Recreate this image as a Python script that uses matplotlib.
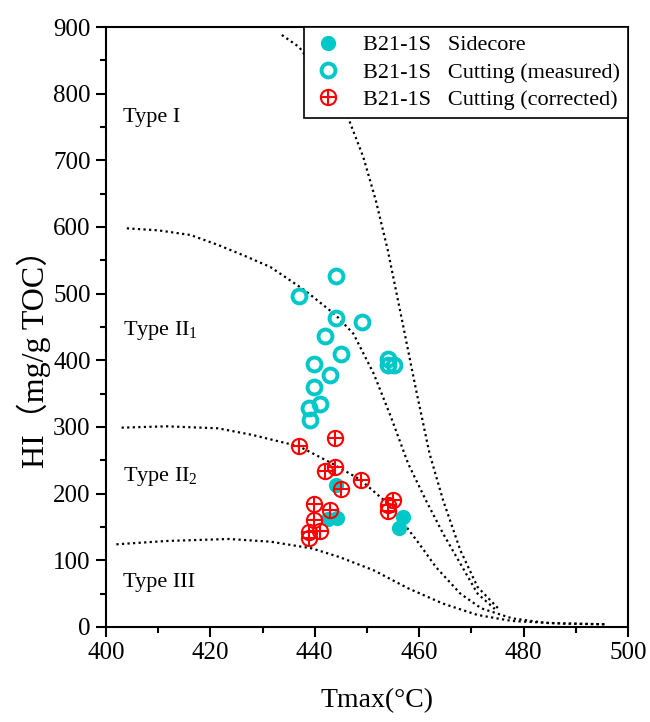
import matplotlib
matplotlib.use("Agg")
import matplotlib.pyplot as plt
from matplotlib.ticker import MultipleLocator

plt.rcParams['font.family'] = ['Liberation Serif', 'Noto Sans CJK SC', 'DejaVu Sans']
plt.rcParams['mathtext.fontset'] = 'custom'
plt.rcParams['mathtext.rm'] = 'Liberation Serif'

# Sidecore samples (filled)
side_tmax = [444.0, 442.5, 444.3, 457.0, 456.2]
side_hi = [213, 162, 164, 165, 149]

# Cuttings, measured (open circles)
meas_tmax = [444.0, 436.9, 444.0, 449.0, 441.9, 445.0, 439.9, 443.0,
             439.9, 441.1, 438.9, 439.0, 454.0, 454.0, 455.1]
meas_hi = [527, 496, 463, 458, 436, 410, 394, 378,
           360, 335, 329, 311, 402, 393, 393]

# Cuttings, corrected (circle with cross)
corr_tmax = [437.0, 443.9, 441.9, 443.9, 448.9, 445.0, 439.9, 443.0,
             439.9, 441.1, 438.9, 438.9, 455.0, 454.0, 454.0]
corr_hi = [271, 283, 234, 240, 221, 207, 184, 176,
           161, 144, 143, 134, 190, 183, 174]

# Kerogen type boundary curves
c1_x = [433.7, 437.0, 441.5, 446.4, 449.3, 451.7, 454.0, 456.6, 459.3,
        462.0, 464.6, 467.9, 471.2, 475.5]
c1_y = [888, 870, 822, 764, 705, 640, 565, 465, 360, 260, 190, 115, 60, 25]

c2_x = [404.0, 410.0, 416.2, 421.5, 426.5, 431.5, 438.1, 444.0, 447.4,
        451.3, 454.6, 457.9, 461.3, 464.6, 467.9, 471.2, 474.5]
c2_y = [598, 595, 588, 573, 557, 540, 505, 468, 440, 380, 315, 245, 190,
        140, 95, 50, 27]

c3_x = [403.0, 411.6, 421.5, 428.1, 437.0, 443.4, 448.7, 453.3, 456.6,
        460.0, 463.2, 467.9, 471.9, 477.8, 484.4, 496.0]
c3_y = [299, 301, 298, 288, 271, 245, 221, 190, 160, 125, 90, 50, 28, 13, 6, 4]

c4_x = [402.0, 411.6, 423.5, 431.5, 439.4, 444.7, 451.3, 457.9, 464.6,
        471.2, 477.8, 487.7, 496.0]
c4_y = [124, 129, 132, 128, 118, 105, 85, 58, 35, 18, 9, 5, 4]

type_labels = ['Type I', 'Type II$_\\mathrm{1}$', 'Type II$_\\mathrm{2}$', 'Type III']
type_label_y = [764, 445, 225, 67]

cyan = '#00C8C8'
red = '#FF0000'

fig = plt.figure(figsize=(6.5, 7.22), dpi=100)
ax = fig.add_axes([0.163, 0.1316, 0.803, 0.831])

for cx, cy in [(c1_x, c1_y), (c2_x, c2_y), (c3_x, c3_y), (c4_x, c4_y)]:
    ax.plot(cx, cy, color='black', linestyle=(0, (1, 1.5)), linewidth=1.6, zorder=1)

h_side, = ax.plot(side_tmax, side_hi, 'o', color=cyan, markersize=11,
                  markeredgewidth=0, linestyle='none', zorder=2)
h_meas, = ax.plot(meas_tmax, meas_hi, 'o', markerfacecolor='none',
                  markeredgecolor=cyan, markersize=10, markeredgewidth=2.8,
                  linestyle='none', zorder=3)
h_circ, = ax.plot(corr_tmax, corr_hi, 'o', markerfacecolor='none',
                  markeredgecolor=red, markersize=11, markeredgewidth=1.5,
                  linestyle='none', zorder=4)
h_plus, = ax.plot(corr_tmax, corr_hi, '+', color=red, markersize=11,
                  markeredgewidth=1.5, linestyle='none', zorder=4)

for lab, yv in zip(type_labels, type_label_y):
    ax.text(403.3, yv, lab, fontsize=16, ha='left', va='center')

ax.set_xlim(400, 500)
ax.set_ylim(0, 900)
ax.xaxis.set_major_locator(MultipleLocator(20))
ax.xaxis.set_minor_locator(MultipleLocator(10))
ax.yaxis.set_major_locator(MultipleLocator(100))
ax.yaxis.set_minor_locator(MultipleLocator(50))
ax.tick_params(which='major', direction='out', length=7, width=1.5,
               labelsize=18, pad=4)
ax.tick_params(which='minor', direction='out', length=4, width=1.5)
for sp in ax.spines.values():
    sp.set_linewidth(1.5)

ax.set_xlabel('Tmax(°C)', fontsize=20)
ax.set_ylabel('HI（mg/g TOC）', fontsize=23)
ax.xaxis.set_label_coords(0.519, -0.102)
ax.yaxis.set_label_coords(-0.105, 0.46)

leg = ax.legend([h_side, h_meas, (h_circ, h_plus)],
                ['B21-1S   Sidecore', 'B21-1S   Cutting (measured)',
                 'B21-1S   Cutting (corrected)'],
                loc='upper right', borderaxespad=0, fontsize=16,
                fancybox=False, edgecolor='black', framealpha=1,
                handletextpad=0.9, borderpad=0.35, labelspacing=0.3,
                handlelength=1.4)
leg.get_frame().set_linewidth(1.2)

fig.savefig('out.png', dpi=100)
